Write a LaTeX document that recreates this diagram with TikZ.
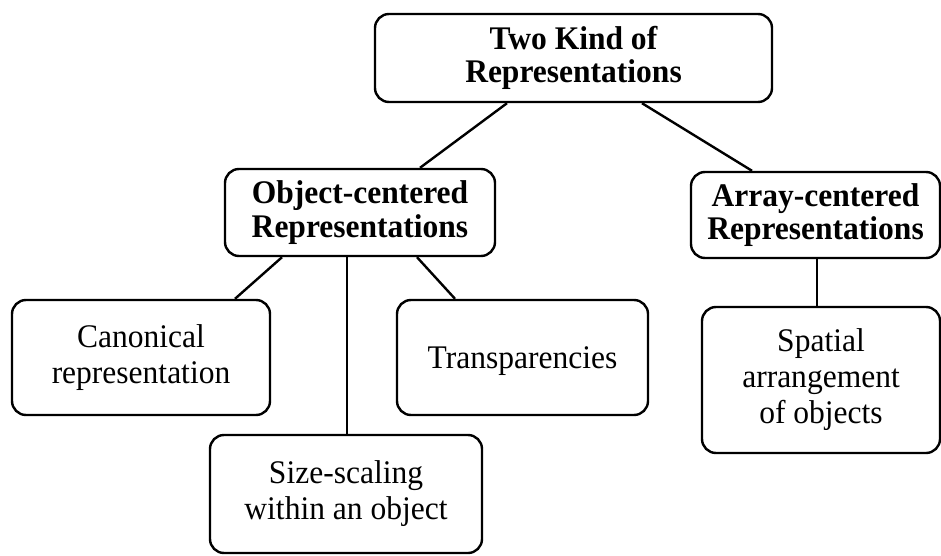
\documentclass[tikz,border=0pt]{standalone}
\usepackage{fontspec}
\setmainfont{Liberation Serif}[FakeStretch=0.955]
\begin{document}
\begin{tikzpicture}[x=1pt,y=-1pt,
  box/.style={draw, line width=2.4pt, rounded corners=14pt, align=center,
    inner sep=0pt, font=\fontsize{33}{36}\selectfont},
  headbox/.style={box, font=\fontsize{33}{33.5}\selectfont\bfseries},
  link/.style={line width=2.4pt}]
  \useasboundingbox (0,0) rectangle (941,556);

  % top level
  \node[headbox, minimum width=397pt, minimum height=88pt] (top) at (573.5,58)
    {Two Kind of\\Representations};

  % second level
  \node[headbox, minimum width=270pt, minimum height=87pt] (obj) at (360,212.5)
    {Object-centered\\Representations};
  \node[headbox, minimum width=249pt, minimum height=86pt] (arr) at (815.5,215)
    {Array-centered\\Representations};

  % leaves
  \node[box, minimum width=258pt, minimum height=115pt] (can) at (141,357.5)
    {Canonical\\representation};
  \node[box, minimum width=251pt, minimum height=115pt] (tra) at (522.5,357.5)
    {\raisebox{-10.5pt}[0pt][0pt]{Transparencies}};
  \node[box, minimum width=272pt, minimum height=118pt] (siz) at (346,494)
    {Size-scaling\\within an object};
  \node[box, minimum width=238pt, minimum height=146pt] (spa) at (821,380)
    {Spatial\\arrangement\\of objects};

  % connectors
  \draw[link] ([xshift=-66.5pt]top.south) -- ([xshift=60pt]obj.north);
  \draw[link] ([xshift=68.5pt]top.south) -- ([xshift=-63.5pt]arr.north);
  \draw[link] ([xshift=-78pt]obj.south) -- ([xshift=94pt]can.north);
  \draw[link] ([xshift=-13pt]obj.south) -- ([xshift=1pt]siz.north);
  \draw[link] ([xshift=57pt]obj.south) -- ([xshift=-67.5pt]tra.north);
  \draw[link] ([xshift=1.5pt]arr.south) -- ([xshift=-4pt]spa.north);
\end{tikzpicture}
\end{document}
